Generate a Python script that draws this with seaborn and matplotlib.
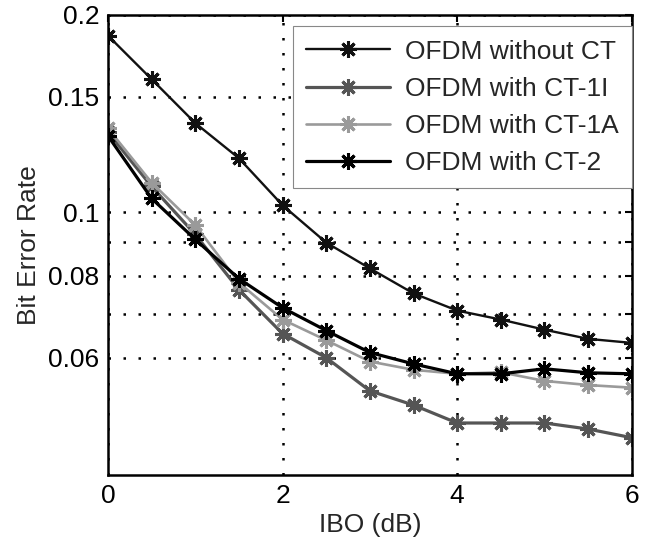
import matplotlib
matplotlib.use("Agg")
import matplotlib.pyplot as plt
import seaborn as sns
import pandas as pd
from matplotlib.ticker import NullLocator, FixedLocator, FixedFormatter

ibo = [0, 0.5, 1, 1.5, 2, 2.5, 3, 3.5, 4, 4.5, 5, 5.5, 6]
ber_no_ct = [0.186, 0.1596, 0.1368, 0.1209, 0.1025, 0.0899, 0.0821, 0.0752,
             0.0708, 0.0686, 0.0662, 0.0641, 0.0632]
ber_ct1i = [0.1325, 0.1095, 0.0925, 0.0762, 0.0653, 0.0600, 0.0534, 0.0508,
            0.0477, 0.0477, 0.0477, 0.0467, 0.0453]
ber_ct1a = [0.1343, 0.1110, 0.0956, 0.0781, 0.0686, 0.0638, 0.0592, 0.0575,
            0.0567, 0.0570, 0.0553, 0.0545, 0.0540]
ber_ct2 = [0.1308, 0.1050, 0.0909, 0.0792, 0.0715, 0.0660, 0.0611, 0.0587,
           0.0567, 0.0567, 0.0577, 0.0569, 0.0567]
labels = ["OFDM without CT", "OFDM with CT-1I", "OFDM with CT-1A", "OFDM with CT-2"]
y_ticks = [0.06, 0.07, 0.08, 0.09, 0.1, 0.15, 0.2]
y_ticklabels = ["0.06", "", "0.08", "", "0.1", "0.15", "0.2"]
x_ticks = [0, 2, 4, 6]

sns.set_style("white")
plt.rcParams['font.family'] = ['Liberation Sans', 'DejaVu Sans']

fig = plt.figure(figsize=(6.5, 5.52), dpi=100)
ax = fig.add_axes([0.166, 0.139, 0.806, 0.834])

series = [ber_no_ct, ber_ct1i, ber_ct1a, ber_ct2]
colors = ["#111111", "#555555", "#9a9a9a", "#000000"]
widths = [1.7, 2.3, 1.9, 2.3]
for vals, lab, c, w in zip(series, labels, colors, widths):
    df = pd.DataFrame({"IBO": ibo, "BER": vals})
    sns.lineplot(data=df, x="IBO", y="BER", ax=ax, color=c, linewidth=w,
                 marker=(8, 2, 0), markersize=12, markeredgewidth=2.2,
                 markeredgecolor=c, label=lab)

ax.set_yscale('log')
ax.set_xlim(0, 6)
ax.set_ylim(0.0397, 0.2)
ax.yaxis.set_major_locator(FixedLocator(y_ticks))
ax.yaxis.set_major_formatter(FixedFormatter(y_ticklabels))
ax.yaxis.set_minor_locator(NullLocator())
ax.set_xticks(x_ticks)
ax.set_xticklabels([str(t) for t in x_ticks])

ax.grid(True, color="black", linestyle=(0, (1, 5)), linewidth=1.8)
for s in ax.spines.values():
    s.set_visible(True)
    s.set_color("black")
    s.set_linewidth(1.8)
ax.tick_params(direction="in", length=5, width=1.5, top=True, right=True,
               labelsize=19, pad=6, colors="black")
ax.set_xlabel("IBO (dB)", fontsize=19, labelpad=4)
ax.set_ylabel("Bit Error Rate", fontsize=19, labelpad=5)

leg = ax.legend(loc="upper right", bbox_to_anchor=(1.0, 0.975), fontsize=19,
                frameon=True, fancybox=False, edgecolor="#888888",
                borderaxespad=0, handlelength=3.2, handletextpad=0.55,
                labelspacing=0.5, borderpad=0.5)
leg.get_frame().set_linewidth(0.8)
leg.get_frame().set_facecolor("white")
leg.get_frame().set_alpha(1)

fig.savefig("out.png", dpi=100)
